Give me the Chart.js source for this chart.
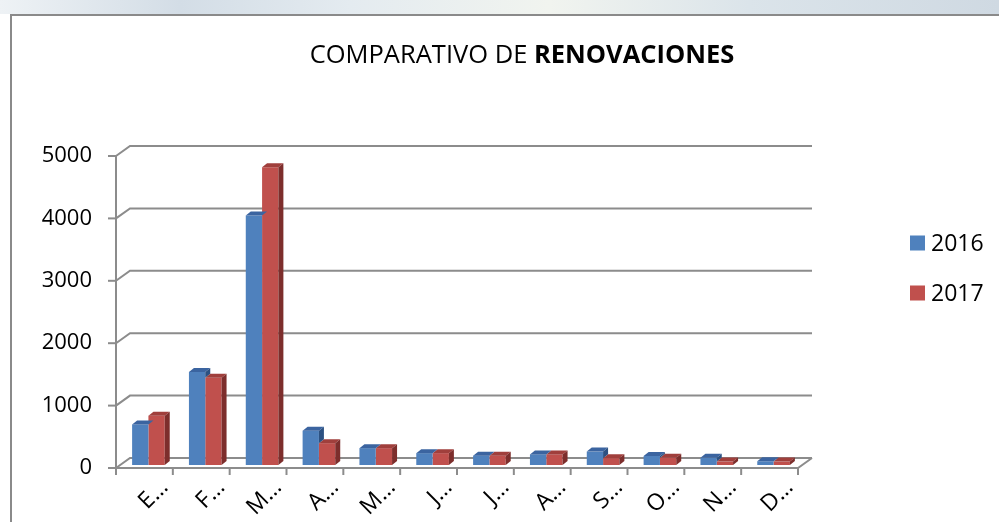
<!DOCTYPE html>
<html><head><meta charset="utf-8">
<script src="https://cdn.jsdelivr.net/npm/chart.js@4"></script>
<style>html,body{margin:0;padding:0;background:#fff;overflow:hidden}#wrap{width:999px;height:522px;position:relative}</style>
</head><body><div id="wrap"><canvas id="c" width="999" height="522"></canvas></div>
<script>
const categories = ["E…","F…","M…","A…","M…","J…","J…","A…","S…","O…","N…","D…"];
const seriesNames = ["2016","2017"];
const values2016 = [650,1490,4000,550,270,190,150,170,215,145,115,60];
const values2017 = [790,1400,4770,350,270,190,150,170,110,115,55,55];
const yTicks = [0,1000,2000,3000,4000,5000];
const titleNormal = "COMPARATIVO DE ";
const titleBold = "RENOVACIONES";

const FRONT = ["#4F81BD", "#C0504D"];
const TOP = ["#3B64A0", "#A03F3C"];
const SIDE = ["#2C5182", "#7D2E2C"];
const FONT = "'Open Sans', 'DejaVu Sans', sans-serif";
const GRID = "#8C8C8C";
const BACK_DX = 14, BACK_DY = -10;
const BAR_DX = 4, BAR_DY = -3;
const FACE_DX = 5, FACE_DY = -4;

const bgPlugin = {
  id: 'bg',
  beforeDraw(chart) {
    const ctx = chart.ctx;
    ctx.save();
    ctx.fillStyle = '#fff';
    ctx.fillRect(0, 0, chart.width, chart.height);
    const g = ctx.createLinearGradient(0, 0, chart.width, 0);
    g.addColorStop(0, '#eef2f5');
    g.addColorStop(0.18, '#d3dde6');
    g.addColorStop(0.35, '#e4ebf0');
    g.addColorStop(0.55, '#f1f4ef');
    g.addColorStop(0.75, '#dbe4ea');
    g.addColorStop(1, '#cfd9e2');
    ctx.fillStyle = g;
    ctx.fillRect(0, 0, chart.width, 14);
    ctx.strokeStyle = '#8a8a8a';
    ctx.lineWidth = 2;
    ctx.beginPath();
    ctx.moveTo(11, chart.height);
    ctx.lineTo(11, 15);
    ctx.lineTo(chart.width, 15);
    ctx.stroke();
    const fs = 25.5;
    ctx.fillStyle = '#000';
    ctx.textBaseline = 'middle';
    ctx.font = fs + "px " + FONT;
    const w1 = ctx.measureText(titleNormal).width;
    ctx.font = "bold " + fs + "px " + FONT;
    const w2 = ctx.measureText(titleBold).width;
    let x = 522 - (w1 + w2) / 2;
    ctx.textAlign = 'left';
    ctx.font = fs + "px " + FONT;
    ctx.fillText(titleNormal, x, 56);
    ctx.font = "bold " + fs + "px " + FONT;
    ctx.fillText(titleBold, x + w1, 56);
    ctx.restore();
  }
};

const wallPlugin = {
  id: 'walls',
  beforeDatasetsDraw(chart) {
    const ctx = chart.ctx, ys = chart.scales.y, xs = chart.scales.x;
    const L = xs.left, R = xs.right;
    ctx.save();
    ctx.strokeStyle = GRID;
    ctx.lineWidth = 2;
    yTicks.forEach(v => {
      const py = ys.getPixelForValue(v);
      ctx.beginPath();
      ctx.moveTo(L, py);
      ctx.lineTo(L + BACK_DX, py + BACK_DY);
      ctx.lineTo(R + BACK_DX, py + BACK_DY);
      ctx.stroke();
      ctx.beginPath();
      ctx.moveTo(L - 8, py);
      ctx.lineTo(L, py);
      ctx.stroke();
    });
    ctx.beginPath();
    ctx.moveTo(L, ys.getPixelForValue(yTicks[yTicks.length - 1]));
    ctx.lineTo(L, ys.getPixelForValue(0));
    ctx.stroke();
    const p0 = ys.getPixelForValue(0);
    ctx.beginPath();
    ctx.moveTo(L, p0);
    ctx.lineTo(R, p0);
    ctx.lineTo(R + BACK_DX, p0 + BACK_DY);
    ctx.stroke();
    const n = categories.length;
    for (let i = 0; i <= n; i++) {
      const px = L + (R - L) * i / n;
      ctx.beginPath();
      ctx.moveTo(px, p0);
      ctx.lineTo(px, p0 + 7);
      ctx.stroke();
    }
    ctx.restore();
  },
  beforeDatasetDraw(chart) {
    chart.ctx.save();
    chart.ctx.translate(BAR_DX, BAR_DY);
  },
  afterDatasetDraw(chart, args) {
    const ctx = chart.ctx, i = args.index;
    const meta = chart.getDatasetMeta(i);
    const nextMeta = i + 1 < chart.data.datasets.length ? chart.getDatasetMeta(i + 1) : null;
    meta.data.forEach((bar, k) => {
      const p = bar.getProps(['x', 'y', 'base', 'width'], true);
      const l = p.x - p.width / 2, r = p.x + p.width / 2;
      const t = p.y, b = p.base;
      let sb = b;
      if (nextMeta) {
        const ny = nextMeta.data[k].getProps(['y'], true).y;
        sb = Math.max(t, Math.min(b, ny));
      }
      ctx.fillStyle = TOP[i];
      ctx.beginPath();
      ctx.moveTo(l, t);
      ctx.lineTo(r, t);
      ctx.lineTo(r + FACE_DX, t + FACE_DY);
      ctx.lineTo(l + FACE_DX, t + FACE_DY);
      ctx.closePath();
      ctx.fill();
      if (sb > t) {
        ctx.fillStyle = SIDE[i];
        ctx.beginPath();
        ctx.moveTo(r, t);
        ctx.lineTo(r + FACE_DX, t + FACE_DY);
        ctx.lineTo(r + FACE_DX, sb + FACE_DY);
        ctx.lineTo(r, sb);
        ctx.closePath();
        ctx.fill();
      }
    });
    ctx.restore();
  }
};

const legendPlugin = {
  id: 'legend3d',
  afterDraw(chart) {
    const ctx = chart.ctx;
    ctx.save();
    ctx.font = "23px " + FONT;
    ctx.textBaseline = 'middle';
    ctx.textAlign = 'left';
    chart.data.datasets.forEach((ds, i) => {
      const cy = 243 + i * 50;
      ctx.fillStyle = ds.backgroundColor;
      ctx.fillRect(910, cy - 7.5, 15, 15);
      ctx.fillStyle = '#000';
      ctx.fillText(ds.label, 931, cy + 1);
    });
    ctx.restore();
  }
};

new Chart(document.getElementById('c'), {
  type: 'bar',
  data: {
    labels: categories,
    datasets: [
      { label: seriesNames[0], data: values2016, backgroundColor: FRONT[0], borderWidth: 0 },
      { label: seriesNames[1], data: values2017, backgroundColor: FRONT[1], borderWidth: 0 }
    ]
  },
  options: {
    responsive: false,
    devicePixelRatio: 1,
    animation: false,
    events: [],
    layout: { padding: { top: 156, right: 201, left: 0, bottom: 0 } },
    datasets: { bar: { categoryPercentage: 0.574, barPercentage: 1.0 } },
    plugins: { legend: { display: false }, title: { display: false }, tooltip: { enabled: false } },
    scales: {
      x: {
        grid: { display: false, drawTicks: false },
        border: { display: false },
        ticks: {
          color: '#000', font: { family: FONT, size: 23 },
          minRotation: 45, maxRotation: 45, autoSkip: false, padding: 6, labelOffset: 20
        },
        afterFit(s) { s.height = 54; s.paddingLeft = 0; s.paddingRight = 0; }
      },
      y: {
        min: 0, max: 5000,
        grid: { display: false, drawTicks: false },
        border: { display: false },
        afterBuildTicks(s) { s.ticks = yTicks.map(v => ({ value: v })); },
        ticks: { color: '#000', font: { family: FONT, size: 22 }, padding: 24, callback: v => String(v) },
        afterFit(s) { s.width = 116; s.paddingTop = 0; s.paddingBottom = 0; }
      }
    }
  },
  plugins: [bgPlugin, wallPlugin, legendPlugin]
});
</script>
</body></html>
